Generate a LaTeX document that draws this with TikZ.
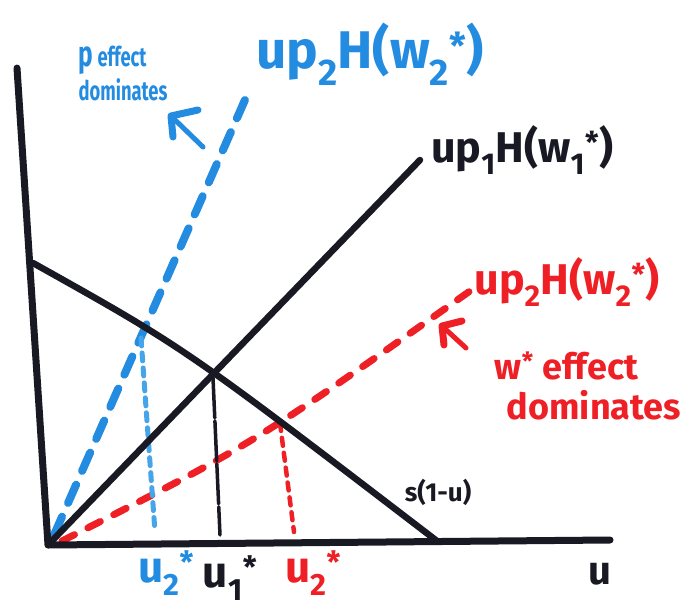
\documentclass[tikz,border=0pt]{standalone}
\usepackage{fontspec}
\setmainfont{Fira Sans}
\definecolor{mblue}{RGB}{35,140,225}
\definecolor{lblue}{RGB}{70,165,232}
\definecolor{mred}{RGB}{238,32,38}
\definecolor{mblack}{RGB}{25,25,35}
\newcommand{\supsub}[2]{\textsubscript{#2}\textsuperscript{#1}}
\begin{document}
\begin{tikzpicture}[x=1pt,y=-1pt,
  axisline/.style={mblack,line width=7pt,line cap=round,line join=round},
  mainline/.style={mblack,line width=6.5pt,line cap=round},
  bluedash/.style={mblue,line width=8pt,line cap=round,dash pattern=on 20pt off 15pt},
  reddash/.style={mred,line width=7pt,line cap=round,dash pattern=on 14pt off 15pt},
  drop/.style={line width=5pt,line cap=round,dash pattern=on 8pt off 7pt},
  blk/.style={mblack,font=\bfseries},
  annot/.style={line width=7pt,line cap=round,line join=round}]
\useasboundingbox (0,0) rectangle (690,610);
% coordinates
\coordinate (ytop) at (17,68);
\coordinate (O) at (48,545);
\coordinate (xend) at (610,540);
\coordinate (sA) at (33,263);
\coordinate (sB) at (437,541);
\coordinate (bEnd) at (420,160);
\coordinate (blEnd) at (248,93);
\coordinate (rEnd) at (470,291);
\coordinate (dbT) at (141,338);
\coordinate (dbB) at (155,532);
\coordinate (dkT) at (213,378);
\coordinate (dkB) at (220,535);
\coordinate (drT) at (280,423);
\coordinate (drB) at (294,532);
% dashed curves
\draw[bluedash] (O) ++(6,-10) -- (blEnd);
\draw[reddash] (O) ++(14,-4) .. controls (255,443) .. (rEnd);
% drops
\draw[drop,lblue] (dbT) -- (dbB);
\draw[drop,mblack,line width=3.5pt,dash pattern=on 40pt off 3pt] (dkT) -- (dkB);
\draw[drop,mred,line width=4.5pt] (drT) -- (drB);
% axes and black lines
\draw[mainline] (sA) .. controls (185,348) .. (sB);
\draw[mainline] (O) -- (bEnd);
\draw[axisline] (ytop) -- (O) -- (xend);
% labels
\node[mblue,font=\bfseries\fontsize{53}{58}\selectfont] (lb) at (370,54) {up\textsubscript{2}H(w\supsub{*}{2})};
\node[mblue,font=\bfseries\fontsize{27}{34}\selectfont,align=left,xscale=0.68,transform shape,inner sep=0pt] (pe) at (123,73) {{\fontsize{36}{34}\selectfont p} effect\\dominates};
\node[blk,font=\bfseries\fontsize{43}{48}\selectfont] (lk) at (522,150) {up\textsubscript{1}H(w\supsub{*}{1})};
\node[mred,font=\bfseries\fontsize{43}{48}\selectfont] (lr) at (567,282) {up\textsubscript{2}H(w\supsub{*}{2})};
\node[mred,font=\bfseries\fontsize{36}{40}\selectfont,align=left,inner sep=0pt] (we) at (588,386) {w\textsuperscript{*} effect\\\hspace*{12pt}dominates};
\node[blk,font=\bfseries\fontsize{26}{28}\selectfont] (sl) at (438,492) {s(1-u)};
\node[mblue,font=\bfseries\fontsize{44}{48}\selectfont] (u2b) at (166,573) {u\supsub{*}{2}};
\node[blk,font=\bfseries\fontsize{44}{48}\selectfont] (u1) at (230,578) {u\supsub{*}{1}};
\node[mred,font=\bfseries\fontsize{44}{48}\selectfont] (u2r) at (313,573) {u\supsub{*}{2}};
\node[blk,font=\bfseries\fontsize{40}{44}\selectfont] (ux) at (600,574) {u};
% annotation arrows
\coordinate (btip) at (171,116);
\draw[annot,mblue] (198,110) -- (btip) -- (173,137);
\draw[annot,mblue,line width=5pt] (btip) -- (203,147);
\coordinate (rtip) at (442,326);
\draw[annot,mred] (462,321) -- (rtip) -- (444,345);
\draw[annot,mred,line width=5pt] (rtip) -- (466,348);
\end{tikzpicture}
\end{document}
